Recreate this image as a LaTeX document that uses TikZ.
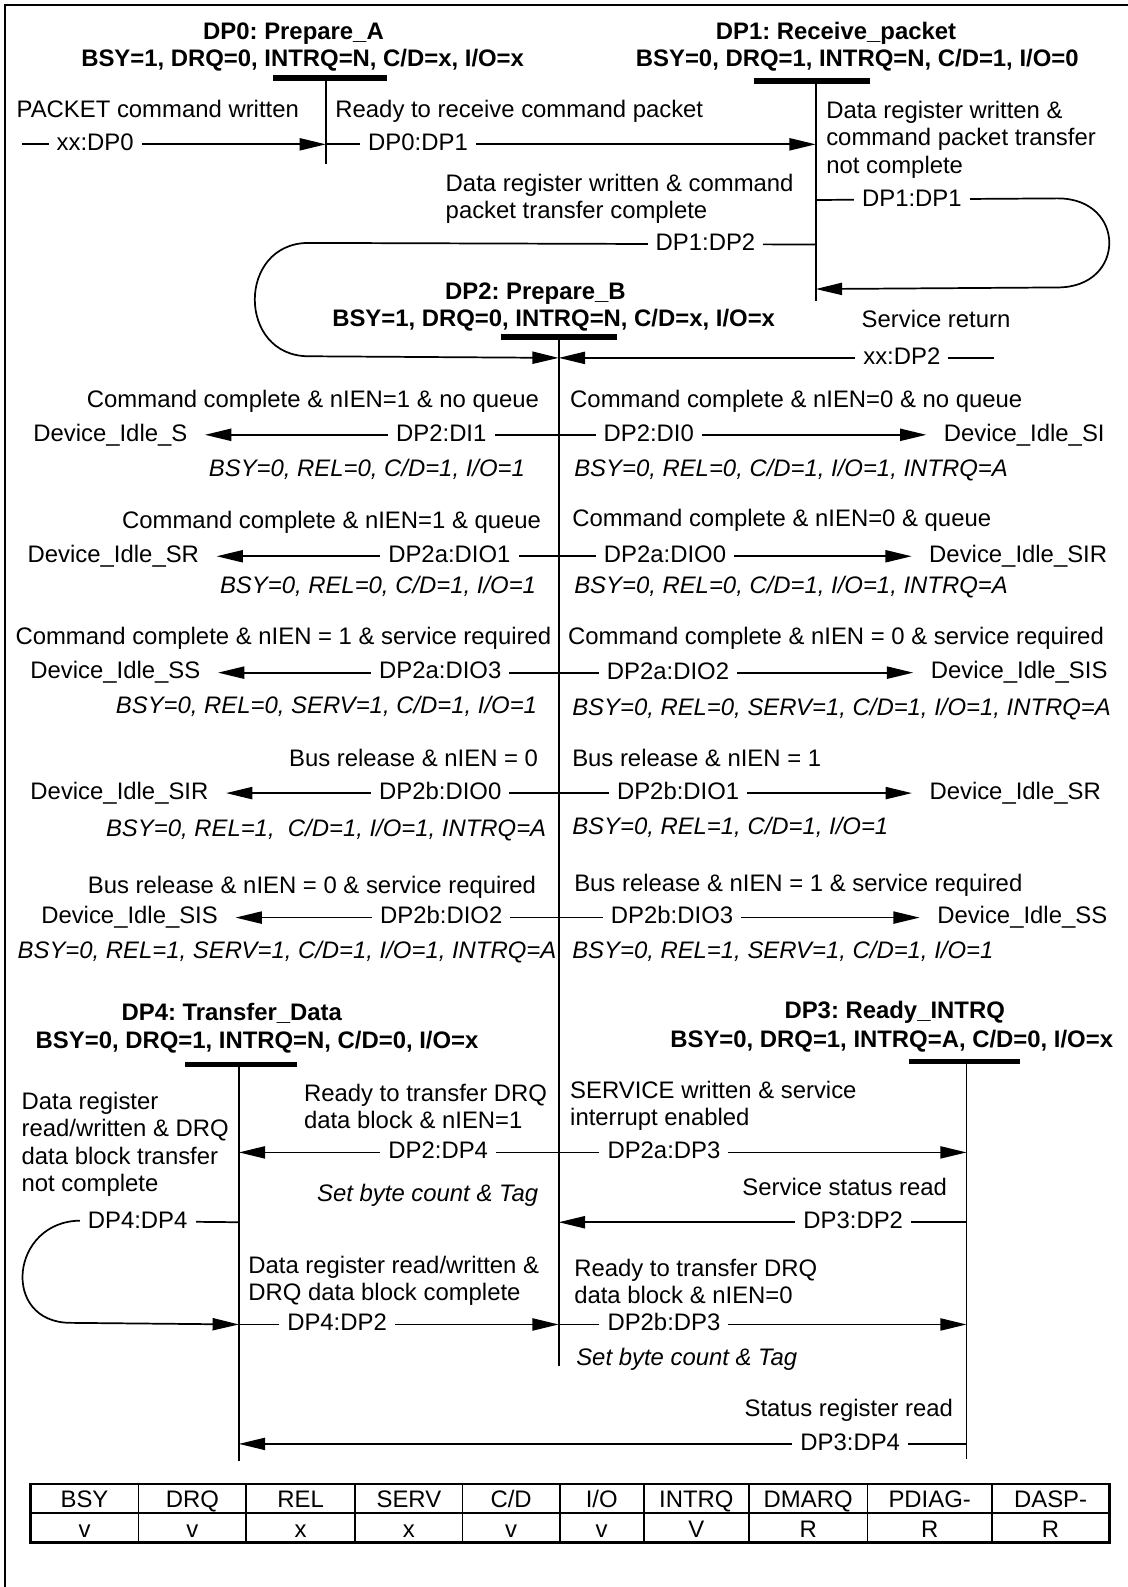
\documentclass[tikz,border=0pt]{standalone}
\usepackage{fontspec}
\setmainfont{Liberation Sans}
\usetikzlibrary{arrows.meta}
\begin{document}
\frenchspacing
\fontsize{11.8}{13.5}\selectfont
\begin{tikzpicture}[x=0.5pt,y=-0.5pt,
  every node/.style={inner sep=0pt,yshift=-0.8pt},
  conn/.style={line width=0.85pt,-{Triangle[length=13pt,width=6pt]}},
  statel/.style={line width=0.9pt},
  barl/.style={line width=2.6pt},
  lab/.style={fill=white,inner xsep=4pt,inner ysep=2pt,anchor=mid},
  ttl/.style={font=\bfseries,anchor=mid},
  dev/.style={inner xsep=8.5pt,inner ysep=2pt,anchor=mid},
  cond/.style={align=left,anchor=north west},
  condL/.style={anchor=mid west},
  condR/.style={anchor=mid east},
  sigL/.style={font=\itshape,anchor=mid west},
  sigR/.style={font=\itshape,anchor=mid east},
  tcell/.style={anchor=mid},
  tout/.style={line width=1.2pt},
  tin/.style={line width=0.8pt}]
\useasboundingbox (0,0) rectangle (1114,1568);
% frame
\draw[line width=1.3pt] (5,1568) -- (5,5) -- (1114,5);

% state titles
\node[ttl] (dp0name) at (290,31) {DP0: Prepare\_A};
\node[ttl] (dp0sig) at (299,58) {BSY=1, DRQ=0, INTRQ=N, C/D=x, I/O=x};
\node[ttl] (dp1name) at (826,31) {DP1: Receive\_packet};
\node[ttl] (dp1sig) at (847,58) {BSY=0, DRQ=1, INTRQ=N, C/D=1, I/O=0};
\node[ttl] (dp2name) at (529,288) {DP2: Prepare\_B};
\node[ttl] (dp2sig) at (547,315) {BSY=1, DRQ=0, INTRQ=N, C/D=x, I/O=x};
\node[ttl] (dp4name) at (229,1000) {DP4: Transfer\_Data};
\node[ttl] (dp4sig) at (254,1028) {BSY=0, DRQ=1, INTRQ=N, C/D=0, I/O=x};
\node[ttl] (dp3name) at (884,998) {DP3: Ready\_INTRQ};
\node[ttl] (dp3sig) at (881,1027) {BSY=0, DRQ=1, INTRQ=A, C/D=0, I/O=x};

% bars and state lines
\coordinate (dp0t) at (322,77);  \coordinate (dp0e) at (322,160);
\coordinate (dp1t) at (806,80);  \coordinate (dp1e) at (806,296);
\coordinate (dp2t) at (552,333); \coordinate (dp2e) at (552,1348);
\coordinate (dp4t) at (236,1052); \coordinate (dp4e) at (236,1442);
\coordinate (dp3t) at (955,1049); \coordinate (dp3e) at (955,1440);
\draw[barl] (270,77) -- (382,77);
\draw[barl] (745,80) -- (860,80);
\draw[barl] (495,333) -- (610,333);
\draw[barl] (183,1052) -- (293,1052);
\draw[barl] (898,1049) -- (1008,1049);
\draw[statel] (dp0t) -- (dp0e);
\draw[statel] (dp1t) -- (dp1e);
\draw[statel] (dp2t) -- (dp2e);
\draw[statel] (dp4t) -- (dp4e);
\draw[statel] (dp3t) -- (dp3e);

% top transitions
\coordinate (in0) at (22,141);
\coordinate (p0a) at (322,141);
\coordinate (p1a) at (806,141);
\draw[conn] (in0) -- (p0a);
\draw[conn] (p0a) -- (p1a);
\node[lab] (lxxdp0) at (94,141) {xx:DP0};
\node[lab] (ldp0dp1) at (413,141) {DP0:DP1};
\node[condL] (cpacket) at (16,108) {PACKET command written};
\node[condL] (cready) at (331,108) {Ready to receive command packet};

\coordinate (p1b) at (806,196);
\coordinate (p1c) at (806,284);
\draw[conn] (p1b) -- (1045,196) .. controls (1113,196) and (1113,284) .. (1045,284) -- (p1c);
\node[lab] (ldp1dp1) at (901,196) {DP1:DP1};
\node[cond] (cdp1dp1) at (816,98) {Data register written \&\\command packet transfer\\not complete};

\coordinate (p1d) at (806,240);
\coordinate (p2a) at (552,352);
\draw[conn] (p1d) -- (305,240) .. controls (234,240) and (234,352) .. (305,352) -- (p2a);
\node[lab] (ldp1dp2) at (697,240) {DP1:DP2};
\node[cond] (cdp1dp2) at (440,170) {Data register written \& command\\packet transfer complete};

\coordinate (in2) at (982,352);
\draw[conn] (in2) -- (p2a);
\node[lab] (lxxdp2) at (891,352) {xx:DP2\hspace{10pt}};
\node[condL] (cserv) at (851,316) {Service return};

% row 1
\coordinate (r1) at (552,428);
\node[dev] (dl1) at (109,428) {Device\_Idle\_S};
\node[dev] (dr1) at (1012,428) {Device\_Idle\_SI};
\draw[conn] (r1) -- (r1 -| dl1.east);
\draw[conn] (r1) -- (r1 -| dr1.west);
\node[lab] (lr1a) at (436,428) {DP2:DI1};
\node[lab] (lr1b) at (641,428) {DP2:DI0};
\node[condR] (cr1a) at (533,395) {Command complete \& nIEN=1 \& no queue};
\node[condL] (cr1b) at (563,395) {Command complete \& nIEN=0 \& no queue};
\node[sigR] (sr1a) at (519,463) {BSY=0, REL=0, C/D=1, I/O=1};
\node[sigL] (sr1b) at (567,463) {BSY=0, REL=0, C/D=1, I/O=1, INTRQ=A};

% row 2
\coordinate (r2) at (552,548);
\node[dev] (dl2) at (112,548) {Device\_Idle\_SR};
\node[dev] (dr2) at (1006,548) {Device\_Idle\_SIR};
\draw[conn] (r2) -- (r2 -| dl2.east);
\draw[conn] (r2) -- (r2 -| dr2.west);
\node[lab] (lr2a) at (444,548) {DP2a:DIO1};
\node[lab] (lr2b) at (657,548) {DP2a:DIO0};
\node[condR] (cr2a) at (535,514) {Command complete \& nIEN=1 \& queue};
\node[condL] (cr2b) at (565,512) {Command complete \& nIEN=0 \& queue};
\node[sigR] (sr2a) at (530,579) {BSY=0, REL=0, C/D=1, I/O=1};
\node[sigL] (sr2b) at (567,579) {BSY=0, REL=0, C/D=1, I/O=1, INTRQ=A};

% row 3
\coordinate (r3) at (552,663);
\node[dev] (dl3) at (114,663) {Device\_Idle\_SS};
\node[dev] (dr3) at (1007,663) {Device\_Idle\_SIS};
\draw[conn] (r3) -- (r3 -| dl3.east);
\draw[conn] (r3) -- (r3 -| dr3.west);
\node[lab] (lr3a) at (435,663) {DP2a:DIO3};
\node[lab] (lr3b) at (660,664) {DP2a:DIO2};
\node[condR] (cr3a) at (545,629) {Command complete \& nIEN = 1 \& service required};
\node[condL] (cr3b) at (561,629) {Command complete \& nIEN = 0 \& service required};
\node[sigR] (sr3a) at (531,697) {BSY=0, REL=0, SERV=1, C/D=1, I/O=1};
\node[sigL] (sr3b) at (565,699) {BSY=0, REL=0, SERV=1, C/D=1, I/O=1, INTRQ=A};

% row 4
\coordinate (r4) at (552,782);
\node[dev] (dl4) at (118,782) {Device\_Idle\_SIR};
\node[dev] (dr4) at (1003,782) {Device\_Idle\_SR};
\draw[conn] (r4) -- (r4 -| dl4.east);
\draw[conn] (r4) -- (r4 -| dr4.west);
\node[lab] (lr4a) at (435,782) {DP2b:DIO0};
\node[lab] (lr4b) at (670,782) {DP2b:DIO1};
\node[condR] (cr4a) at (532,749) {Bus release \& nIEN = 0};
\node[condL] (cr4b) at (565,749) {Bus release \& nIEN = 1};
\node[sigR] (sr4a) at (540,819) {BSY=0, REL=1, \ C/D=1, I/O=1, INTRQ=A};
\node[sigL] (sr4b) at (565,817) {BSY=0, REL=1, C/D=1, I/O=1};

% row 5
\coordinate (r5) at (552,905);
\node[dev] (dl5) at (128,905) {Device\_Idle\_SIS};
\node[dev] (dr5) at (1010,905) {Device\_Idle\_SS};
\draw[conn] (r5) -- (r5 -| dl5.east);
\draw[conn] (r5) -- (r5 -| dr5.west);
\node[lab] (lr5a) at (436,905) {DP2b:DIO2};
\node[lab] (lr5b) at (664,905) {DP2b:DIO3};
\node[condR] (cr5a) at (530,875) {Bus release \& nIEN = 0 \& service required};
\node[condL] (cr5b) at (567,873) {Bus release \& nIEN = 1 \& service required};
\node[sigR] (sr5a) at (550,939) {BSY=0, REL=1, SERV=1, C/D=1, I/O=1, INTRQ=A};
\node[sigL] (sr5b) at (565,939) {BSY=0, REL=1, SERV=1, C/D=1, I/O=1};

% lower transitions
\coordinate (q2a) at (552,1137);
\coordinate (q4a) at (236,1137);
\coordinate (q3a) at (955,1137);
\draw[conn] (q2a) -- (q4a);
\draw[conn] (q2a) -- (q3a);
\node[lab] (ldp2dp4) at (433,1137) {DP2:DP4};
\node[lab] (ldp2adp3) at (656,1137) {DP2a:DP3};
\node[cond] (cdp2dp4) at (300,1069) {Ready to transfer DRQ\\data block \& nIEN=1};
\node[cond] (cdp2adp3) at (563,1066) {SERVICE written \& service\\interrupt enabled};
\node[cond] (cdp4dp4) at (21,1077) {Data register\\read/written \& DRQ\\data block transfer\\not complete};
\node[sigL] (sdp2dp4) at (313,1179) {Set byte count \& Tag};
\node[condR] (cdp3dp2) at (936,1173) {Service status read};

\coordinate (q3b) at (955,1206);
\coordinate (q2b) at (552,1206);
\draw[conn] (q3b) -- (q2b);
\node[lab] (ldp3dp2) at (843,1206) {DP3:DP2};

\coordinate (q4b) at (236,1206);
\coordinate (q4c) at (236,1307);
\draw[conn] (q4b) -- (80,1206) .. controls (10,1206) and (0,1307) .. (70,1307) -- (q4c);
\node[lab] (ldp4dp4) at (136,1206) {DP4:DP4};

\coordinate (q2c) at (552,1307);
\coordinate (q3c) at (955,1307);
\draw[conn] (q4c) -- (q2c);
\draw[conn] (q2c) -- (q3c);
\node[lab] (ldp4dp2) at (333,1307) {DP4:DP2};
\node[lab] (ldp2bdp3) at (656,1307) {DP2b:DP3};
\node[cond] (cdp4dp2) at (245,1239) {Data register read/written \&\\DRQ data block complete};
\node[cond] (cdp2bdp3) at (567,1242) {Ready to transfer DRQ\\data block \& nIEN=0};
\node[sigL] (sdp2bdp3) at (569,1341) {Set byte count \& Tag};
\node[condR] (cdp3dp4) at (942,1392) {Status register read};

\coordinate (q3d) at (955,1425);
\coordinate (q4d) at (236,1425);
\draw[conn] (q3d) -- (q4d);
\node[lab] (ldp3dp4) at (840,1425) {DP3:DP4};

% table
\draw[tin] (30,1495) -- (1096,1495);
\foreach \xx in {137,243,351,457,553,636,740,857,980}
  \draw[tin] (\xx,1466) -- (\xx,1524);
\draw[tout] (30,1466) rectangle (1096,1524);
\node[tcell] (h1) at (83.5,1482) {BSY};
\node[tcell] (h2) at (190,1482) {DRQ};
\node[tcell] (h3) at (297,1482) {REL};
\node[tcell] (h4) at (404,1482) {SERV};
\node[tcell] (h5) at (505,1482) {C/D};
\node[tcell] (h6) at (594.5,1482) {I/O};
\node[tcell] (h7) at (688,1482) {INTRQ};
\node[tcell] (h8) at (798.5,1482) {DMARQ};
\node[tcell] (h9) at (918.5,1482) {PDIAG-};
\node[tcell] (h10) at (1038,1482) {DASP-};
\node[tcell] (v1) at (83.5,1511) {v};
\node[tcell] (v2) at (190,1511) {v};
\node[tcell] (v3) at (297,1511) {x};
\node[tcell] (v4) at (404,1511) {x};
\node[tcell] (v5) at (505,1511) {v};
\node[tcell] (v6) at (594.5,1511) {v};
\node[tcell] (v7) at (688,1511) {V};
\node[tcell] (v8) at (798.5,1511) {R};
\node[tcell] (v9) at (918.5,1511) {R};
\node[tcell] (v10) at (1038,1511) {R};
\end{tikzpicture}
\end{document}
